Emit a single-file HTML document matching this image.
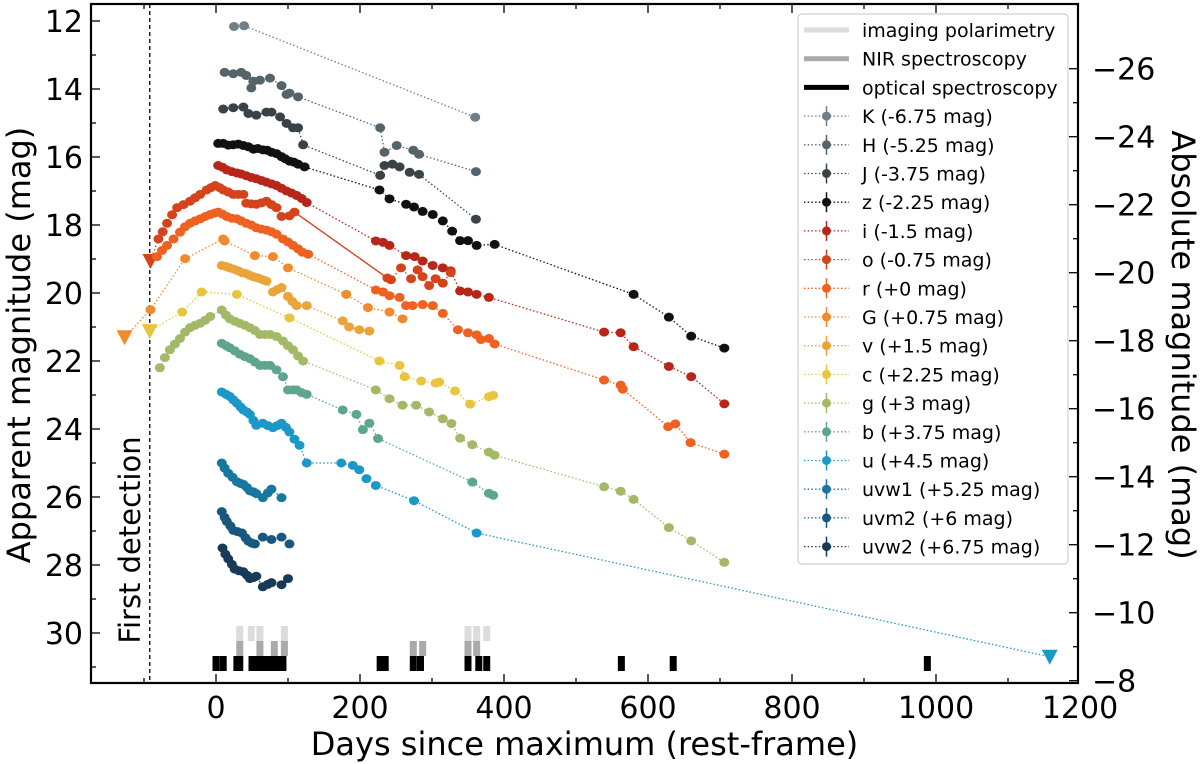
<!DOCTYPE html>
<html><head><meta charset="utf-8"><style>
html,body{margin:0;padding:0;background:#fff;}
svg{display:block;font-family:"DejaVu Sans","Liberation Sans",sans-serif;}
</style></head><body>
<svg id="chart" width="1200" height="764" viewBox="0 0 1200 764" xmlns="http://www.w3.org/2000/svg"></svg>
<script>
// ---- data ----
const xTicks = [0,200,400,600,800,1000,1200];
const yTicksLeft = [12,14,16,18,20,22,24,26,28,30];
const yTicksRight = [-26,-24,-22,-20,-18,-16,-14,-12,-10,-8];
const bandNames = ["K","H","J","z","i","o","r","G","v","c","g","b","u","uvw1","uvm2","uvw2"];
const bandLabels = ["K (-6.75 mag)","H (-5.25 mag)","J (-3.75 mag)","z (-2.25 mag)","i (-1.5 mag)","o (-0.75 mag)","r (+0 mag)","G (+0.75 mag)","v (+1.5 mag)","c (+2.25 mag)","g (+3 mag)","b (+3.75 mag)","u (+4.5 mag)","uvw1 (+5.25 mag)","uvm2 (+6 mag)","uvw2 (+6.75 mag)"];
const K_days=[25,39,360];
const K_mags=[12.16,12.14,14.83];
const H_days=[12,24,35,42,49,52,61,75,91,98,102,114,228,234,251,274,282,361];
const H_mags=[13.51,13.55,13.51,13.6,13.97,13.77,13.74,13.68,13.9,14.16,14.12,14.23,15.14,15.86,15.66,15.8,15.92,16.43];
const J_days=[10,24,38,45,56,70,77,89,98,107,114,121,228,234,245,255,269,282,361];
const J_mags=[14.59,14.55,14.53,14.72,14.77,14.68,14.68,14.82,15.01,15.14,15.14,15.64,16.54,16.25,16.21,16.29,16.45,16.51,17.83];
const z_days=[3,10,17,24,31,38,45,52,58,65,71,77,84,91,96,102,108,114,123,227,241,264,275,287,301,315,328,339,350,362,387,580,629,660,706];
const z_mags=[15.6,15.6,15.65,15.64,15.62,15.66,15.7,15.77,15.75,15.79,15.8,15.86,15.9,15.99,16.05,16.12,16.15,16.21,16.29,16.97,17.23,17.39,17.47,17.6,17.69,17.88,18.18,18.46,18.46,18.6,18.57,20.04,20.71,21.27,21.62];
const i_days=[3,9,15,22,29,35,42,49,56,63,70,77,84,91,98,105,112,119,126,222,232,241,264,276,287,301,315,326,339,350,362,379,539,562,580,629,660,706];
const i_mags=[16.25,16.3,16.38,16.43,16.47,16.5,16.55,16.6,16.64,16.69,16.74,16.79,16.84,16.92,17.0,17.06,17.13,17.22,17.34,18.47,18.51,18.6,18.9,18.93,19.06,19.19,19.26,19.35,19.94,19.97,20.04,20.13,21.15,21.17,21.58,22.16,22.46,23.26];
const o_days=[-80,-74,-68,-61,-54,-45,-36,-29,-22,-13,-7,-1,5,10,17,24,31,38,42,49,56,63,70,77,84,91,102,109,238,243,257,271,280,287,296,305,315,326];
const o_mags=[18.41,18.2,17.95,17.7,17.49,17.4,17.3,17.2,17.1,16.97,16.9,16.84,16.9,16.97,17.03,17.1,17.1,17.1,17.36,17.38,17.39,17.35,17.3,17.4,17.49,17.75,17.73,17.62,19.56,19.61,19.26,19.58,19.32,19.52,19.78,19.58,19.71,19.4];
const r_days=[-82,-75,-68,-59,-50,-43,-36,-29,-22,-15,-8,-2,3,9,15,22,29,35,42,49,56,63,70,77,84,93,100,107,114,120,128,222,232,241,255,264,273,287,301,315,336,350,362,368,379,387,539,562,565,628,638,659,706];
const r_mags=[18.93,18.75,18.6,18.41,18.21,18.05,17.95,17.88,17.82,17.75,17.69,17.65,17.62,17.68,17.75,17.8,17.82,17.88,17.95,18.0,18.08,18.12,18.15,18.2,18.27,18.41,18.5,18.6,18.7,18.8,18.86,19.91,19.97,20.08,20.13,20.37,20.37,20.34,20.37,20.6,21.08,21.17,21.23,21.37,21.34,21.5,22.56,22.71,22.83,23.93,23.85,24.4,24.74];
const G_days=[-91,-43,10,12,54,79,100,181,211,241,259];
const G_mags=[20.49,18.99,18.41,18.47,18.9,18.93,19.26,20.04,20.43,20.56,20.76];
const v_days=[8,14,19,25,31,36,42,47,52,57,61,66,70,79,85,91,100,106,112,126,176,185,199,213];
const v_mags=[19.19,19.22,19.26,19.3,19.35,19.4,19.43,19.48,19.52,19.55,19.58,19.62,19.65,19.97,19.9,19.84,20.1,20.25,20.37,20.37,20.82,21.0,21.08,21.12];
const c_days=[-47,-20,29,102,227,255,262,285,305,310,332,353,379,385];
const c_mags=[20.56,19.97,20.04,20.73,22.0,22.13,22.46,22.59,22.65,22.62,22.88,23.27,23.05,23.01];
const g_days=[-78,-71,-64,-57,-50,-43,-36,-29,-22,-15,-8,8,14,19,26,33,40,47,54,61,68,75,84,93,100,107,114,121,222,241,259,278,296,315,327,339,356,379,387,539,562,580,629,660,706];
const g_mags=[22.2,21.9,21.67,21.5,21.34,21.15,21.02,20.95,20.89,20.8,20.69,20.5,20.65,20.76,20.83,20.89,20.95,21.02,21.1,21.22,21.22,21.22,21.28,21.41,21.55,21.67,21.85,22.0,22.85,23.11,23.3,23.3,23.5,23.7,23.84,24.27,24.46,24.68,24.77,25.7,25.83,26.07,26.9,27.29,27.92];
const b_days=[8,14,19,26,33,40,47,54,61,68,75,84,93,100,107,112,119,126,176,195,204,213,225,356,379,385];
const b_mags=[21.48,21.55,21.61,21.7,21.8,21.87,21.93,22.03,22.13,22.13,22.13,22.26,22.46,22.85,22.85,22.85,22.93,22.98,23.44,23.57,24.02,23.83,24.28,25.56,25.89,25.95];
const u_days=[8,14,19,24,29,34,38,43,47,52,56,65,72,79,85,91,97,102,109,116,126,174,190,199,209,222,275,362];
const u_mags=[22.91,22.98,23.04,23.14,23.24,23.35,23.44,23.5,23.57,23.75,23.89,23.83,23.9,23.96,23.9,23.83,23.95,24.09,24.3,24.48,25.0,25.0,25.07,25.2,25.46,25.66,26.11,27.06];
const uvw1_days=[8,12,17,23,29,34,38,43,47,52,56,65,72,77,91];
const uvw1_mags=[25.0,25.15,25.3,25.42,25.55,25.6,25.63,25.72,25.82,25.85,25.9,26.02,25.88,25.77,26.02];
const uvm2_days=[8,12,15,20,24,30,36,41,45,50,54,65,77,91,102];
const uvm2_mags=[26.43,26.6,26.72,26.85,26.98,27.02,27.06,27.2,27.3,27.36,27.38,27.18,27.25,27.18,27.38];
const uvw2_days=[9,13,17,22,26,32,38,43,47,52,56,65,72,77,91,100];
const uvw2_mags=[27.5,27.68,27.82,27.98,28.12,28.17,28.2,28.3,28.4,28.37,28.33,28.64,28.57,28.52,28.58,28.4];
const limit_bands=["G","o","c","u"];
const limit_days=[-127,-91,-92,1158];
const limit_mags=[21.3,19.06,21.12,30.7];
const optSpec_days=[0,10,29,33,50,57,61,70,77,81,86,93,228,235,274,284,350,365,376,563,635,988];
const nirSpec_days=[33,61,81,95,274,287,350,362];
const polar_days=[33,49,61,95,350,362,376];

// ---- style / scales ----
const colors={K:"#6e7f86",H:"#55636a",J:"#394347",z:"#111111",i:"#b8261a",o:"#d4441c",r:"#ee6120",G:"#f08a2c",v:"#eaa53a",c:"#e9c53d",g:"#a4b967",b:"#5ea58f",u:"#1b98c8",uvw1:"#18779f",uvm2:"#18587d",uvw2:"#173b57"};
const data={K:[K_days,K_mags],H:[H_days,H_mags],J:[J_days,J_mags],z:[z_days,z_mags],i:[i_days,i_mags],o:[o_days,o_mags],r:[r_days,r_mags],G:[G_days,G_mags],v:[v_days,v_mags],c:[c_days,c_mags],g:[g_days,g_mags],b:[b_days,b_mags],u:[u_days,u_mags],uvw1:[uvw1_days,uvw1_mags],uvm2:[uvm2_days,uvm2_mags],uvw2:[uvw2_days,uvw2_mags]};
const L=91,R=1078,T=4,B=683;
function X(d){return 216+0.72*d;}
function Y(m){return 21+(m-12)*34;}
function YR(a){return 680.7+(a+8)*34;}
const NS="http://www.w3.org/2000/svg";
const svg=document.getElementById('chart');
function el(tag,attrs,parent){const e=document.createElementNS(NS,tag);for(const k in attrs)e.setAttribute(k,attrs[k]);(parent||svg).appendChild(e);return e;}

const defs=el('defs',{});
const cp=el('clipPath',{id:'plotclip'},defs);
el('rect',{x:L,y:T,width:R-L,height:B-T},cp);
const plot=el('g',{'clip-path':'url(#plotclip)'});



const fd=el('line',{x1:X(-92),x2:X(-92),y1:T,y2:B,stroke:'#000','stroke-width':1.3,'stroke-dasharray':'4,3'},plot);


const fdt=el('text',{x:0,y:0,'font-size':29,transform:`translate(${X(-92)-10},${540}) rotate(-90)`,'text-anchor':'middle',fill:'#000'},plot);
fdt.textContent='First detection';



function bars(arr,y0,y1,col,name){
  const g=el('g',{},plot);
  
  
  arr.forEach(d=>{const r=el('rect',{x:X(d)-3.5,y:y0,width:7,height:y1-y0,fill:col},g);
    
    });
}
bars(polar_days,626,641,'#dcdcdc','imaging-polarimetry-epochs');
bars(nirSpec_days,641,656,'#aaaaaa','nir-spectroscopy-epochs');
bars(optSpec_days,656,671,'#000','optical-spectroscopy-epochs');

bandNames.forEach(name=>{
  const [ds,ms]=data[name];const col=colors[name];
  const g=el('g',{},plot);
  
  
  let pts=ds.map((d,k)=>[d,ms[k]]);
  limit_bands.forEach((lb,k)=>{if(lb===name)pts.push([limit_days[k],limit_mags[k]]);});
  pts.sort((a,b)=>a[0]-b[0]);
  let dAttr=pts.map((p,k)=>(k?'L':'M')+X(p[0]).toFixed(1)+','+Y(p[1]).toFixed(1)).join(' ');
  const ln=el('path',{d:dAttr,fill:'none',stroke:col,'stroke-width':1.3,'stroke-dasharray':'1.5,2.2'},g);
  
  
  if(name==='o'){
    const k1=o_days.indexOf(109),k2=o_days.indexOf(238);
    const sl=el('line',{x1:X(o_days[k1]),y1:Y(o_mags[k1]),x2:X(o_days[k2]),y2:Y(o_mags[k2]),stroke:col,'stroke-width':1.3},g);
    
    
  }
  ds.forEach((d,k)=>{
    const c=el('ellipse',{cx:X(d),cy:Y(ms[k]),rx:5,ry:4.5,fill:col},g);
    
    
  });
  limit_bands.forEach((lb,k)=>{if(lb===name){
    const x=X(limit_days[k]),y=Y(limit_mags[k]);
    const t=el('path',{d:`M${x-8},${y-7} L${x+8},${y-7} L${x},${y+8} Z`,fill:col},g);
    
    
  }});
});

const fr=el('rect',{x:L,y:T,width:R-L,height:B-T,fill:'none',stroke:'#000','stroke-width':2.2});



const tg=el('g',{stroke:'#000','stroke-width':1.3});


for(let d=-100;d<=1200;d+=100){const x=X(d);if(x>R)continue;const len=(d%200===0)?9:5;
  el('line',{x1:x,x2:x,y1:B,y2:B-len},tg);el('line',{x1:x,x2:x,y1:T,y2:T+len},tg);}
for(let m=12;m<=31;m++){const y=Y(m);const len=(m%2===0)?9:5;el('line',{x1:L,x2:L+len,y1:y,y2:y},tg);}
for(let a=-26;a<=-8;a++){const y=YR(a);const len=(a%2===0)?9:5;el('line',{x1:R,x2:R-len,y1:y,y2:y},tg);}

const lg=el('g',{'font-size':30,fill:'#000'});


xTicks.forEach(d=>{const t=el('text',{x:X(d),y:718,'text-anchor':'middle'},lg);t.textContent=String(d);
  
  });
yTicksLeft.forEach(m=>{const t=el('text',{x:83,y:Y(m)+11,'text-anchor':'end'},lg);t.textContent=String(m);
  
  });
yTicksRight.forEach(a=>{const t=el('text',{x:1092,y:YR(a)+11,'text-anchor':'start'},lg);t.textContent='\u2212'+Math.abs(a);
  
  });

const xl=el('text',{x:(L+R)/2,y:755,'text-anchor':'middle','font-size':32});
xl.textContent='Days since maximum (rest-frame)';


const yl=el('text',{x:0,y:0,'text-anchor':'middle','font-size':32,transform:'translate(30,345) rotate(-90)'});
yl.textContent='Apparent magnitude (mag)';


const yr=el('text',{x:0,y:0,'text-anchor':'middle','font-size':32,transform:'translate(1172,345) rotate(90)'});
yr.textContent='Absolute magnitude (mag)';



const leg=el('g',{});


el('rect',{x:798,y:14,width:270,height:550,rx:4,fill:'#fff','fill-opacity':0.85,stroke:'#d0d0d0','stroke-width':1.2},leg);
const rowY=k=>30+k*28.7;
const headers=[['imaging polarimetry','#dcdcdc'],['NIR spectroscopy','#aaaaaa'],['optical spectroscopy','#000']];
headers.forEach((h,k)=>{
  const e=el('g',{},leg);
  
  
  el('line',{x1:804,x2:849,y1:rowY(k),y2:rowY(k),stroke:h[1],'stroke-width':5},e);
  const t=el('text',{x:862,y:rowY(k)+7,'font-size':19},e);t.textContent=h[0];
});
bandNames.forEach((name,j)=>{
  const k=j+3,y=rowY(k),col=colors[name];
  const e=el('g',{},leg);
  
  
  el('line',{x1:804,x2:849,y1:y,y2:y,stroke:col,'stroke-width':1.3,'stroke-dasharray':'1.5,2.2'},e);
  el('line',{x1:826.5,x2:826.5,y1:y-10,y2:y+10,stroke:col,'stroke-width':1.5},e);
  el('circle',{cx:826.5,cy:y,r:4.5,fill:col},e);
  const t=el('text',{x:862,y:y+7,'font-size':19},e);t.textContent=bandLabels[j];
});
</script>
</body></html>
